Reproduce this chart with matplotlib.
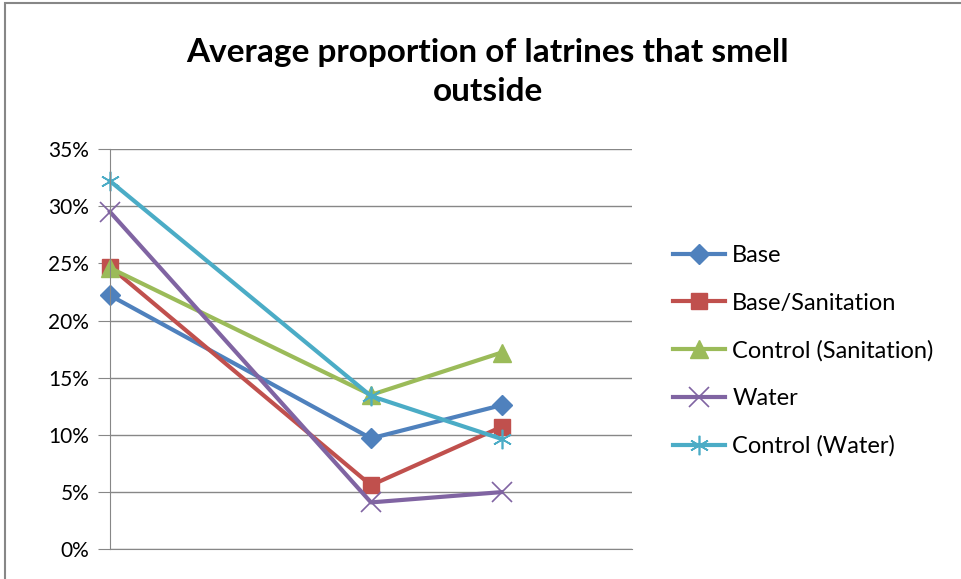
import matplotlib.pyplot as plt
from matplotlib.patches import Rectangle

plt.rcParams['font.family'] = ['Lato', 'DejaVu Sans']

# category positions (one empty slot between the first and second survey)
xpos = [0, 2, 3]

base = [22.2, 9.7, 12.6]
base_sanitation = [24.7, 5.6, 10.7]
control_sanitation = [24.6, 13.5, 17.2]
water = [29.5, 4.1, 5.0]
control_water = [32.2, 13.4, 9.65]

series = [
    ('Base', base, '#4F81BD', 'D', 10),
    ('Base/Sanitation', base_sanitation, '#C0504D', 's', 12),
    ('Control (Sanitation)', control_sanitation, '#9BBB59', '^', 13),
    ('Water', water, '#8064A2', 'x', 14),
    ('Control (Water)', control_water, '#4BACC6', '*', 14),
]

fig = plt.figure(figsize=(9.62, 5.79), dpi=100)
ax = fig.add_axes([110 / 962, 1 - 549.3 / 579, 522 / 962, 400.3 / 579])

for name, vals, col, mk, ms in series:
    if mk == '*':
        # asterisk-like marker
        ax.plot(xpos, vals, color=col, lw=3, marker=(6, 2, 0), ms=ms,
                mew=1.2, label=name, clip_on=False)
    elif mk == 'x':
        ax.plot(xpos, vals, color=col, lw=3, marker='x', ms=ms,
                mew=1.2, label=name, clip_on=False)
    else:
        ax.plot(xpos, vals, color=col, lw=3, marker=mk, ms=ms,
                mec=col, label=name, clip_on=False)

ax.set_xlim(0, 4)
ax.set_ylim(0, 35)
ax.set_yticks(range(0, 36, 5))
ax.set_yticklabels(['%d%%' % v for v in range(0, 36, 5)], fontsize=15)
ax.set_xticks([])
ax.grid(axis='y', color='#878787', lw=1)
ax.set_axisbelow(True)
for s in ['top', 'right']:
    ax.spines[s].set_visible(False)
ax.spines['left'].set_color('#878787')
ax.spines['bottom'].set_color('#878787')
ax.tick_params(axis='y', length=9, color='#878787', pad=6)

fig.text(488 / 962, 1 - 72 / 579, 'Average proportion of latrines that smell\noutside',
         ha='center', va='center', fontsize=24, fontweight='bold',
         linespacing=1.45)

leg = ax.legend(loc='upper left', bbox_to_anchor=(652 / 962, 1 - 224 / 579),
                bbox_transform=fig.transFigure, frameon=False, fontsize=17,
                handlelength=2.2, handletextpad=0.3, labelspacing=1.12)

fig.patches.append(Rectangle((5 / 962, -0.01), 1.0, 1 - 3 / 579 + 0.01,
                             transform=fig.transFigure, fill=False,
                             edgecolor='#878787', lw=1.5))

fig.savefig('out.png', dpi=100)
